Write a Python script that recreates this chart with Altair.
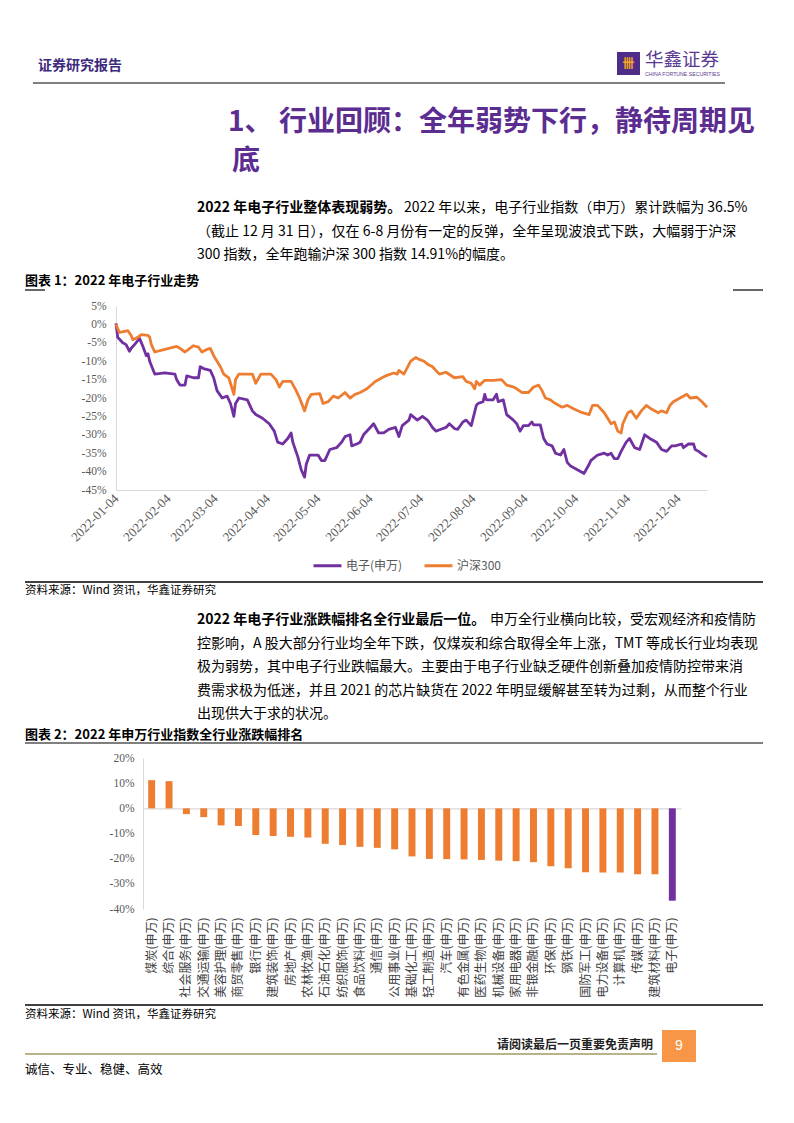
import altair as alt
import pandas as pd

# ---------------- colours / fonts ----------------
PURPLE = "#7030A0"
ORANGE = "#ED7D31"
CJK = "Noto Sans CJK SC"
SERIF = "Liberation Serif"

# ---------------- page texts ----------------
header_left = "证券研究报告"
logo_glyph = "卌"
logo_name = "华鑫证券"
logo_en = "CHINA FORTUNE SECURITIES"
title_lines = ["1、 行业回顾：全年弱势下行，静待周期见", "底"]
para1_bold = "2022 年电子行业整体表现弱势。"
para1_lines = [
    "2022 年以来，电子行业指数（申万）累计跌幅为 36.5%",
    "（截止 12 月 31 日），仅在 6-8 月份有一定的反弹，全年呈现波浪式下跌，大幅弱于沪深",
    "300 指数，全年跑输沪深 300 指数 14.91%的幅度。",
]
caption1 = "图表 1：2022 年电子行业走势"
source_text = "资料来源：Wind 资讯，华鑫证券研究"
para2_bold = "2022 年电子行业涨跌幅排名全行业最后一位。"
para2_lines = [
    "申万全行业横向比较，受宏观经济和疫情防",
    "控影响，A 股大部分行业均全年下跌，仅煤炭和综合取得全年上涨，TMT 等成长行业均表现",
    "极为弱势，其中电子行业跌幅最大。主要由于电子行业缺乏硬件创新叠加疫情防控带来消",
    "费需求极为低迷，并且 2021 的芯片缺货在 2022 年明显缓解甚至转为过剩，从而整个行业",
    "出现供大于求的状况。",
]
caption2 = "图表 2：2022 年申万行业指数全行业涨跌幅排名"
footer_note = "请阅读最后一页重要免责声明"
page_no = "9"
motto = "诚信、专业、稳健、高效"

# ---------------- chart 1 data (days after 2022-01-04, cumulative %) ----------------
series_names = ["电子(申万)", "沪深300"]
start_date = "2022-01-04"
tick_dates = ["2022-01-04", "2022-02-04", "2022-03-04", "2022-04-04", "2022-05-04", "2022-06-04",
              "2022-07-04", "2022-08-04", "2022-09-04", "2022-10-04", "2022-11-04", "2022-12-04"]
end_date = "2022-12-21"

elec_off = [0, 1, 4, 6, 8, 9, 11, 14, 16, 18,
            19, 20, 23, 29, 35, 36, 38, 41, 42, 46,
            49, 50, 52, 56, 58, 60, 63, 66, 68, 70,
            71, 73, 78, 81, 83, 87, 91, 94, 96, 99,
            102, 104, 105, 108, 110, 112, 113, 115, 120, 122,
            124, 127, 131, 134, 136, 139, 140, 143, 145, 147,
            151, 153, 156, 159, 162, 166, 168, 170, 174, 175,
            179, 182, 185, 188, 190, 193, 196, 198, 201, 203,
            206, 208, 211, 214, 215, 218, 219, 220, 224, 226,
            227, 230, 232, 236, 238, 240, 242, 245, 247, 248,
            252, 254, 256, 259, 261, 264, 266, 268, 270, 274,
            278, 281, 282, 286, 290, 292, 294, 296, 298, 300,
            303, 305, 308, 311, 314, 317, 321, 324, 327, 330,
            332, 336, 337, 340, 343, 344, 346, 349, 351]
elec_val = [0.3, -3.5, -5, -5.5, -7.3, -6.5, -5.5, -3.8, -6, -8.5,
            -8, -10, -13.5, -13.2, -13.5, -15, -16.5, -16.5, -14, -14.5,
            -14.5, -11.5, -12, -12.5, -14.5, -18, -20, -19.5, -21.5, -25,
            -21.5, -20, -20.5, -23.5, -24.5, -25.5, -27, -29, -32, -32.5,
            -31, -29.5, -32, -36, -39.5, -41.5, -38, -35.5, -35.5, -37,
            -37, -34, -33.5, -32, -30.5, -30, -33, -32.5, -32, -30,
            -28, -27, -29.5, -29.5, -28.5, -28, -30.5, -27.5, -26, -24.5,
            -26, -25, -26, -28, -29, -28.5, -28, -27, -28.3, -28.5,
            -26.5, -26, -27.5, -22, -21.5, -21, -19, -20.5, -20.5, -19,
            -21, -20.5, -24.5, -26, -27, -29, -27.5, -27.5, -26.5, -27.3,
            -27.3, -31, -32.5, -33, -35, -35.5, -34, -37.5, -38.5, -39.5,
            -40.5, -38, -37, -35.5, -35, -35.5, -35, -36.5, -36.5, -34.5,
            -32, -31, -33.5, -34, -30, -31, -32, -34, -34.5, -33,
            -33, -32.5, -33.5, -32.5, -32.5, -34, -34.5, -35.5, -36]

hs_off = [0, 2, 5, 7, 9, 10, 13, 15, 19, 20,
          21, 23, 29, 36, 38, 41, 46, 49, 51, 54,
          56, 58, 62, 64, 67, 68, 70, 71, 73, 81,
          83, 86, 92, 95, 97, 99, 104, 107, 109, 112,
          114, 116, 121, 123, 126, 129, 132, 136, 139, 142,
          145, 149, 154, 158, 160, 165, 167, 168, 171, 175,
          178, 180, 183, 185, 188, 192, 196, 201, 206, 208,
          211, 213, 214, 216, 219, 224, 229, 232, 236, 238,
          241, 245, 248, 251, 253, 255, 258, 261, 265, 268,
          272, 277, 281, 283, 286, 290, 292, 294, 296, 298,
          300, 301, 304, 306, 309, 312, 315, 318, 322, 324,
          327, 329, 331, 335, 339, 341, 345, 348, 351]
hs_val = [0, -2.2, -1.9, -1.7, -3.0, -4.2, -3.5, -2.8, -3.0, -3.5,
          -5.5, -7.5, -6.8, -6.0, -6.5, -7.5, -5.8, -6.2, -7.5, -6.8,
          -6.5, -8.5, -11.5, -13.5, -14.5, -16, -19, -15, -13.5, -13.5,
          -16, -13.5, -13.5, -15, -17, -15.5, -15.5, -18, -20, -23.5,
          -20.5, -19, -18.8, -21.5, -21, -19.5, -20, -18.5, -20, -19,
          -18.5, -17.5, -15.5, -14.5, -14, -13.2, -13.5, -12.5, -13.5, -10,
          -9, -9.5, -10, -10.8, -11.5, -13.5, -13, -14.5, -14.2, -15.5,
          -16, -17.5, -15.5, -16.5, -15.2, -15.2, -15, -16.5, -17, -17.5,
          -18.5, -18.5, -17, -16.5, -18, -20, -20.5, -21.5, -22.5, -22,
          -23, -24, -24.5, -22, -22, -24, -25.5, -27, -26.5, -29,
          -29.5, -27, -24, -23.5, -25.5, -23.5, -22, -23, -24, -23.5,
          -24, -22, -21, -20, -19, -20, -19.8, -21, -22.5]

line_ticks = [5, 0, -5, -10, -15, -20, -25, -30, -35, -40, -45]

# ---------------- chart 2 data ----------------
industries = ["煤炭(申万)", "综合(申万)", "社会服务(申万)", "交通运输(申万)", "美容护理(申万)",
              "商贸零售(申万)", "银行(申万)", "建筑装饰(申万)", "房地产(申万)", "农林牧渔(申万)",
              "石油石化(申万)", "纺织服饰(申万)", "食品饮料(申万)", "通信(申万)", "公用事业(申万)",
              "基础化工(申万)", "轻工制造(申万)", "汽车(申万)", "有色金属(申万)", "医药生物(申万)",
              "机械设备(申万)", "家用电器(申万)", "非银金融(申万)", "环保(申万)", "钢铁(申万)",
              "国防军工(申万)", "电力设备(申万)", "计算机(申万)", "传媒(申万)", "建筑材料(申万)",
              "电子(申万)"]
changes = [11.2, 10.8, -2.3, -3.5, -6.8, -7.0, -10.6, -11.0, -11.3, -11.6,
           -14.1, -14.6, -15.3, -15.7, -16.3, -19.1, -20.1, -20.2, -20.3, -20.5,
           -20.8, -21.0, -21.4, -23.0, -23.8, -25.4, -25.5, -25.5, -26.2, -26.2,
           -36.7]
highlight = "电子(申万)"
bar_ticks = [20, 10, 0, -10, -20, -30, -40]
bar_domain = [-40, 20]

# ---------------- layout constants (pixels) ----------------
PAGE_W = 778
ROW_A_H, LINE_H, ROW_C_H, BAR_H, ROW_E_H = 298, 184, 268, 151, 206
LINE_X0, LINE_X1 = 108, 699
BAR_X0, BAR_X1 = 135, 673

# ---------------- helpers ----------------
one = pd.DataFrame({"k": [0]})


def txt(s, x, y, size, color="#000000", weight="normal", font=CJK, align="left"):
    return alt.Chart(one).mark_text(
        text=s, font=font, fontSize=size, fontWeight=weight, color=color,
        align=align, baseline="middle"
    ).encode(x=alt.value(x), y=alt.value(y))


def hline(x1, x2, y, color, w):
    return alt.Chart(one).mark_rule(color=color, strokeWidth=w).encode(
        x=alt.value(x1), x2=alt.value(x2), y=alt.value(y))


def box(x1, x2, y1, y2, color):
    return alt.Chart(one).mark_rect(color=color).encode(
        x=alt.value(x1), x2=alt.value(x2), y=alt.value(y1), y2=alt.value(y2))


def dt(s):
    y, m, d = (int(p) for p in s.split("-"))
    return alt.DateTime(year=y, month=m, date=d)


# ---------------- row A: header, title, paragraph 1, caption 1 ----------------
TITLE_C = "#5C2D91"
rowA = alt.layer(
    txt(header_left, 30, 58, 14, "#3D2A7C", "bold"),
    box(609, 632, 44, 67, "#4E2C87"),
    txt(logo_glyph, 620.5, 56, 12, "#F5A623", "bold", align="center"),
    txt(logo_name, 637, 52, 18.5, "#5A3A90"),
    txt(logo_en, 637, 65.5, 5.2, "#5A3A90", font="Liberation Sans"),
    hline(25, 717, 75, "#808080", 2),
    txt(title_lines[0], 220, 115, 28, TITLE_C, "bold"),
    txt(title_lines[1], 224, 154, 28, TITLE_C, "bold"),
    txt(para1_bold, 189, 200, 14, "#000000", "bold"),
    txt(para1_lines[0], 396, 200, 14),
    txt(para1_lines[1], 189, 224, 14),
    txt(para1_lines[2], 189, 247, 14),
    txt(caption1, 17, 273, 13, "#000000", "bold"),
    hline(17, 37, 282, "#000000", 1.2),
    hline(725, 755, 282, "#000000", 1.2),
).properties(width=PAGE_W, height=ROW_A_H)

# ---------------- row B: line chart ----------------
def to_dates(offs):
    base = pd.Timestamp(start_date)
    return [(base + pd.Timedelta(days=int(o))).strftime("%Y-%m-%dT00:00:00") for o in offs]


line_df = pd.concat([
    pd.DataFrame({"date": to_dates(elec_off), "value": elec_val, "series": series_names[0]}),
    pd.DataFrame({"date": to_dates(hs_off), "value": hs_val, "series": series_names[1]}),
], ignore_index=True)

rowB = alt.Chart(line_df).mark_line(strokeWidth=2.8, strokeJoin="round").encode(
    x=alt.X("date:T",
            scale=alt.Scale(domain=[dt(start_date), dt(end_date)], range=[LINE_X0, LINE_X1], nice=False),
            axis=alt.Axis(values=[dt(t) for t in tick_dates], format="%Y-%m-%d",
                          labelAngle=315, labelAlign="right", labelBaseline="middle",
                          labelPadding=6, labelFlush=False, labelOverlap=False,
                          ticks=False, grid=False, domainColor="#D9D9D9", domainWidth=1,
                          labelFont=SERIF, labelFontSize=13, labelColor="#595959",
                          title=None)),
    y=alt.Y("value:Q",
            scale=alt.Scale(domain=[-45, 5], nice=False, zero=False),
            axis=alt.Axis(values=line_ticks, labelExpr="datum.value + '%'", offset=-LINE_X0,
                          ticks=False, grid=False, domainColor="#D9D9D9", domainWidth=1,
                          labelFont=SERIF, labelFontSize=11.5, labelColor="#595959",
                          labelPadding=10, labelFlush=False, labelOverlap=False,
                          title=None)),
    color=alt.Color("series:N", sort=series_names,
                    scale=alt.Scale(domain=series_names, range=[PURPLE, ORANGE]),
                    legend=alt.Legend(title=None, orient="none", legendX=304, legendY=244,
                                      direction="horizontal", symbolType="stroke",
                                      symbolSize=784, symbolStrokeWidth=3,
                                      labelFont=CJK, labelFontSize=12, labelColor="#595959",
                                      columnPadding=15, labelOffset=3)),
).properties(width=PAGE_W, height=LINE_H)

# ---------------- row C: source, paragraph 2, caption 2 ----------------
rowC = alt.layer(
    hline(17, 755, 92, "#000000", 1.5),
    txt(source_text, 17, 101, 11.5),
    txt(para2_bold, 189, 130, 14, "#000000", "bold"),
    txt(para2_lines[0], 482, 130, 14),
    txt(para2_lines[1], 189, 154, 14),
    txt(para2_lines[2], 189, 177, 14),
    txt(para2_lines[3], 189, 201, 14),
    txt(para2_lines[4], 189, 224, 14),
    txt(caption2, 17, 245, 13, "#000000", "bold"),
    hline(17, 755, 253, "#000000", 1.2),
).properties(width=PAGE_W, height=ROW_C_H)

# ---------------- row D: bar chart ----------------
bar_df = pd.DataFrame({"industry": industries, "change": changes})
x_scale = alt.Scale(range=[BAR_X0, BAR_X1], paddingInner=0.6, paddingOuter=0.3)

bars = alt.Chart(bar_df).mark_bar().encode(
    x=alt.X("industry:N", sort=None, scale=x_scale,
            axis=alt.Axis(labelAngle=270, labelAlign="right", labelBaseline="middle",
                          labelPadding=8, domain=False, ticks=False, labelOverlap=False,
                          labelFont=CJK, labelFontSize=12, labelColor="#404040",
                          labelLimit=300, title=None)),
    y=alt.Y("change:Q",
            scale=alt.Scale(domain=bar_domain, nice=False),
            axis=alt.Axis(values=bar_ticks, labelExpr="datum.value + '%'", offset=-BAR_X0,
                          ticks=False, grid=False, domainColor="#D9D9D9", domainWidth=1,
                          labelFont=SERIF, labelFontSize=11.5, labelColor="#595959",
                          labelPadding=9, labelFlush=False, title=None)),
    color=alt.when(alt.datum.industry == highlight).then(alt.value(PURPLE)).otherwise(alt.value(ORANGE)),
)
# category axis line drawn at the 0% level (top axis moved down to y = 0)
zero_offset = -BAR_H * bar_domain[1] / (bar_domain[1] - bar_domain[0])
cat_axis = alt.Chart(bar_df).mark_point(opacity=0, size=1).encode(
    x=alt.X("industry:N", sort=None, scale=x_scale,
            axis=alt.Axis(orient="top", offset=zero_offset, labels=False, ticks=False,
                          domain=True, domainColor="#D9D9D9", domainWidth=1.2, title=None)),
)
rowD = alt.layer(bars, cat_axis).resolve_axis(x="independent").properties(width=PAGE_W, height=BAR_H)

# ---------------- row E: source 2 and footer ----------------
rowE = alt.layer(
    hline(17, 755, 96, "#000000", 1.5),
    txt(source_text, 17, 106, 11.5),
    txt(footer_note, 645, 136, 12, "#222222", "bold", align="right"),
    hline(17, 649, 145, "#A39A5C", 1.5),
    box(654, 688, 121, 153, "#F79646"),
    txt(page_no, 671, 137, 14, "#FFFFFF", align="center", font="Liberation Sans"),
    txt(motto, 17, 161, 12.5),
).properties(width=PAGE_W, height=ROW_E_H)

chart = alt.vconcat(rowA, rowB, rowC, rowD, rowE, spacing=0, bounds="flush").resolve_scale(
    color="independent").resolve_legend(color="independent").properties(
    padding=0, background="white").configure(font=CJK).configure_view(stroke=None)

chart.save("out.html", embed_options={"renderer": "svg", "actions": False})
